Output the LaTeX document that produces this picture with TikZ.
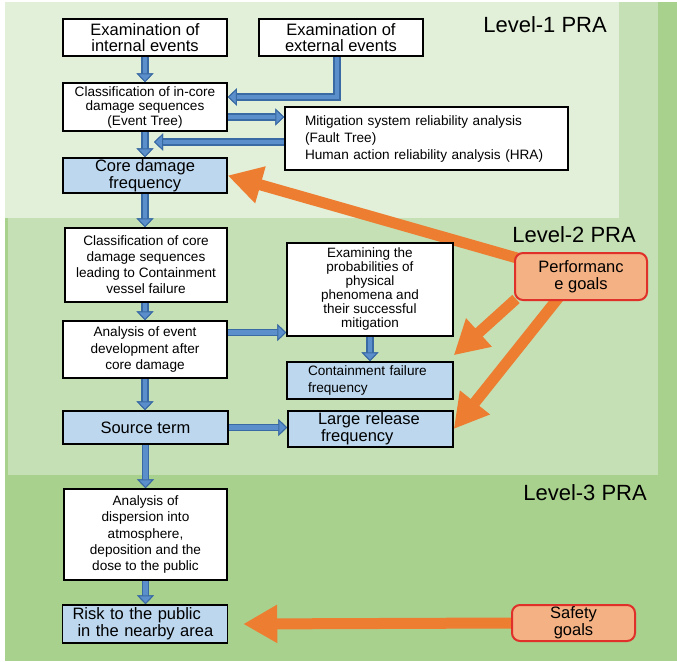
\documentclass[tikz,border=0pt]{standalone}
\usepackage{fontspec}
\setmainfont{Liberation Sans}
\usetikzlibrary{arrows.meta}
\pgfdeclarelayer{zones}
\pgfdeclarelayer{links}
\pgfsetlayers{zones,links,main}
\definecolor{zoneone}{HTML}{E2F0D9}
\definecolor{zonetwo}{HTML}{C5E0B4}
\definecolor{zonethree}{HTML}{A9D18E}
\definecolor{freqblue}{HTML}{BDD7EE}
\definecolor{goalfill}{HTML}{F4B183}
\definecolor{goalred}{HTML}{E0302A}
\definecolor{goalorange}{HTML}{ED7D31}
\definecolor{flowdark}{HTML}{3A6AA3}
\definecolor{flowlight}{HTML}{5B8FCB}
\newcommand{\bigtext}{\fontsize{16.5}{16.5}\selectfont}
\newcommand{\smalltext}{\fontsize{13.6}{14.5}\selectfont}

\begin{document}
\begin{tikzpicture}[x=1pt, y=-1pt,
	box/.style={draw=black, line width=1.5pt, fill=white, inner sep=0pt, align=center, font=\smalltext},
	freq/.style={box, fill=freqblue},
	goal/.style={draw=goalred, line width=2pt, fill=goalfill, rounded corners=8pt, inner sep=0pt, align=center, font=\bigtext},
	flow/.style={draw=flowlight, line width=4.5pt, -{Triangle[length=9pt, width=17pt, line width=1pt, color=flowdark, fill=flowlight]}, preaction={draw=flowdark, line width=7.5pt}},
	push/.style={draw=goalorange, line width=11pt, -{Triangle[length=34pt, width=36pt]}},
	level/.style={anchor=east, inner sep=0pt, font=\fontsize{22}{24}\selectfont}]
	\useasboundingbox (0,0) rectangle (677,661);
	\begin{pgfonlayer}{zones}
		\fill[zonethree] (5,2) rectangle (677,661);
		\fill[zonetwo] (8,2) rectangle (658,475);
		\fill[zoneone] (5,2) rectangle (619,218);
	\end{pgfonlayer}

	\node[level] (lvl1) at (607,25) {Level-1 PRA};
	\node[level] (lvl2) at (636,235) {Level-2 PRA};
	\node[level] (lvl3) at (647,493) {Level-3 PRA};

	\node[box, font=\bigtext, minimum width=164, minimum height=37] (intev) at (145,37.5) {Examination of\\internal events};
	\node[box, font=\bigtext, minimum width=164, minimum height=37] (extev) at (341,37.5) {Examination of\\external events};
	\node[box, minimum width=164, minimum height=48] (incore) at (145,107) {Classification of in-core\\damage sequences\\(Event Tree)};
	\node[box, font=\fontsize{13.6}{17}\selectfont, align=left, text width=243, inner xsep=20, minimum height=63] (mitig) at (426.5,138.5) {Mitigation system reliability analysis\\(Fault Tree)\\Human action reliability analysis (HRA)};
	\node[freq, font=\fontsize{16.5}{17}\selectfont, minimum width=164, minimum height=35] (cdf) at (145,175.5) {Core damage\\frequency};

	\node[box, font=\fontsize{13.6}{16}\selectfont, minimum width=162, minimum height=74] (cvseq) at (146,265) {Classification of core\\damage sequences\\leading to Containment\\vessel failure};
	\node[box, font=\fontsize{13.6}{16.7}\selectfont, minimum width=164, minimum height=57] (evdev) at (145,349.5) {Analysis of event\\development after\\core damage};
	\node[box, font=\fontsize{13.5}{14}\selectfont, minimum width=166, minimum height=93] (phen) at (370,289.5) {Examining the\\probabilities of\\physical\\phenomena and\\their successful\\mitigation};
	\node[freq, font=\fontsize{13.6}{16.5}\selectfont, align=left, text width=124, inner xsep=21, minimum height=37] (cff) at (370,380.5) {Containment failure\\frequency};
	\node[freq, font=\bigtext, minimum width=165, minimum height=33] (srcterm) at (145.5,427.5) {Source term};
	\node[freq, font=\fontsize{16.5}{17}\selectfont, align=left, text width=105, inner xsep=30, minimum height=36] (lrf) at (370.5,429) {Large release\\\hspace*{3pt}frequency};
	\node[goal, font=\fontsize{16.5}{17}\selectfont, minimum width=132, minimum height=47] (perf) at (581,276.5) {Performanc\\e goals};

	\node[box, font=\fontsize{13.6}{16.3}\selectfont, minimum width=163, minimum height=91] (disp) at (145.5,534.5) {Analysis of\\dispersion into\\atmosphere,\\deposition and the\\dose to the public};
	\node[freq, font=\fontsize{16.5}{17}\selectfont, align=left, text width=145, inner xsep=10, minimum height=38] (risk) at (145,624) {Risk to the public\\\hspace*{5pt}in the nearby area};
	\node[goal, font=\fontsize{16.5}{17}\selectfont, minimum width=123, minimum height=36] (safety) at (573.5,623) {Safety\\goals};

	\coordinate (extout) at ([xshift=-4pt]extev.south);
	\coordinate (incin) at ([yshift=10pt]incore.east);
	\coordinate (incout) at ([yshift=-10pt]incore.east);
	\coordinate (cdjoin) at (154,142);
	\coordinate (evdout) at ([yshift=17pt]evdev.east);
	\begin{pgfonlayer}{links}
		\draw[flow] (intev.south) -- (incore.north);
		\draw[flow] (extout) |- (incin);
		\draw[flow] (incout) -- (incout -| mitig.west);
		\draw[flow] (mitig.west |- cdjoin) -- (cdjoin);
		\draw[flow] (incore.south) -- (cdf.north);
		\draw[flow] (cdf.south) -- (cdf.south |- cvseq.north);
		\draw[flow] (cvseq.south -| evdev.north) -- (evdev.north);
		\draw[flow] (evdout) -- (evdout -| phen.west);
		\draw[flow] (evdev.south) -- (evdev.south |- srcterm.north);
		\draw[flow] (phen.south) -- (cff.north);
		\draw[flow] (srcterm.east) -- (srcterm.east -| lrf.west);
		\draw[flow] (srcterm.south -| disp.north) -- (disp.north);
		\draw[flow] (disp.south) -- (disp.south |- risk.north);

		\draw[push] ([xshift=10pt, yshift=-8pt]perf.north west) -- (cdf.east);
		\draw[push] ([xshift=2pt, yshift=2pt]perf.south west) -- ([yshift=6pt]cff.north east);
		\draw[push] ([xshift=-22pt, yshift=4pt]perf.south) -- (lrf.east);
		\draw[push] (safety.west) -- ([xshift=15pt]risk.east);
	\end{pgfonlayer}
\end{tikzpicture}
\end{document}
